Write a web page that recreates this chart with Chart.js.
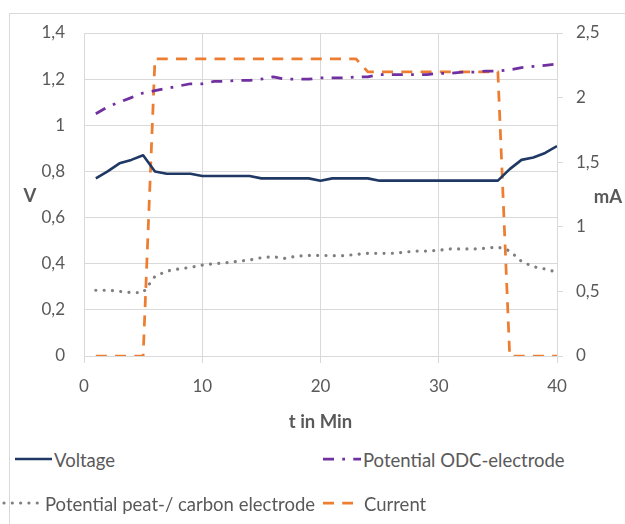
<!DOCTYPE html>
<html>
<head>
<meta charset="utf-8">
<script src="https://cdn.jsdelivr.net/npm/chart.js@4/dist/chart.umd.min.js"></script>
<style>
  html, body { margin: 0; padding: 0; background: #fff; }
  body { width: 625px; height: 524px; position: relative; overflow: hidden; font-family: Lato, 'Liberation Sans', sans-serif; color: #595959; }
  #frame { position: absolute; left: 9px; top: 13px; width: 660px; height: 560px; border: 1px solid #d9d9d9; }
  #chart { position: absolute; left: 0; top: 0; }
  .axis-title { position: absolute; font-weight: 700; font-size: 18.5px; transform: translate(-50%, -50%); }
  .legend-swatch { position: absolute; display: block; transform: translateY(-50%); }
  .legend-text { position: absolute; font-size: 18.5px; white-space: nowrap; transform: translateY(-50%); }
</style>
</head>
<body>
<div id="frame"></div>
<canvas id="chart" width="625" height="440"></canvas>
<div class="axis-title" style="left:30px;top:195px">V</div>
<div class="axis-title" style="left:608px;top:196px">mA</div>
<div id="legend"></div>
<script>
(function () {
  'use strict';

  // --- Data ---
  var minutes = [1, 2, 3, 4, 5, 6, 7, 8, 9, 10, 11, 12, 13, 14, 15, 16, 17, 18, 19, 20,
                 21, 22, 23, 24, 25, 26, 27, 28, 29, 30, 31, 32, 33, 34, 35, 36, 37, 38, 39, 40];

  var voltage = [0.77, 0.80, 0.835, 0.85, 0.87, 0.80, 0.79, 0.79, 0.79, 0.78,
                 0.78, 0.78, 0.78, 0.78, 0.77, 0.77, 0.77, 0.77, 0.77, 0.76,
                 0.77, 0.77, 0.77, 0.77, 0.76, 0.76, 0.76, 0.76, 0.76, 0.76,
                 0.76, 0.76, 0.76, 0.76, 0.76, 0.81, 0.85, 0.86, 0.88, 0.91];

  var potentialOdc = [1.05, 1.08, 1.10, 1.12, 1.14, 1.15, 1.16, 1.17, 1.18, 1.18,
                      1.19, 1.19, 1.195, 1.195, 1.20, 1.21, 1.20, 1.20, 1.20, 1.205,
                      1.205, 1.205, 1.21, 1.21, 1.22, 1.22, 1.22, 1.22, 1.22, 1.225,
                      1.225, 1.23, 1.23, 1.235, 1.235, 1.24, 1.25, 1.255, 1.26, 1.265];

  var potentialCarbon = [0.285, 0.285, 0.28, 0.275, 0.275, 0.345, 0.368, 0.377, 0.384, 0.394,
                         0.40, 0.404, 0.41, 0.416, 0.426, 0.43, 0.423, 0.433, 0.436, 0.436,
                         0.435, 0.435, 0.44, 0.445, 0.445, 0.445, 0.449, 0.455, 0.455, 0.458,
                         0.464, 0.464, 0.464, 0.467, 0.472, 0.456, 0.41, 0.387, 0.377, 0.363];

  var current = [0, 0, 0, 0, 0, 2.3, 2.3, 2.3, 2.3, 2.3,
                 2.3, 2.3, 2.3, 2.3, 2.3, 2.3, 2.3, 2.3, 2.3, 2.3,
                 2.3, 2.3, 2.3, 2.2, 2.2, 2.2, 2.2, 2.2, 2.2, 2.2,
                 2.2, 2.2, 2.2, 2.2, 2.2, 0, 0, 0, 0, 0];

  var xTicks = [0, 10, 20, 30, 40];
  var vTicks = [0, 0.2, 0.4, 0.6, 0.8, 1, 1.2, 1.4];
  var mATicks = [0, 0.5, 1, 1.5, 2, 2.5];

  // --- Styles ---
  var TEXT = '#595959';
  var GRID = '#d9d9d9';
  var FONT = { family: 'Lato', size: 17 };

  function pts(ys) {
    return minutes.map(function (m, i) { return { x: m, y: ys[i] }; });
  }

  // comma decimal like the original (German Excel)
  function comma(v) { return String(+v.toFixed(2)).replace('.', ','); }

  var series = [
    { label: 'Voltage', data: voltage, axis: 'y', color: '#1f3864', width: 2.6, dash: [], cap: 'butt' },
    { label: 'Potential ODC-electrode', data: potentialOdc, axis: 'y', color: '#7030a0', width: 2.75, dash: [11, 8.25, 2.75, 8.25], cap: 'butt' },
    { label: 'Potential peat-/ carbon electrode', data: potentialCarbon, axis: 'y', color: '#7f7f7f', width: 3.2, dash: [0.01, 8.3], cap: 'round' },
    { label: 'Current', data: current, axis: 'y1', color: '#ed7d31', width: 2.75, dash: [11, 8.25], cap: 'butt' },
  ];

  // current drawn behind the potentials, like the picture
  var datasets = series.map(function (s, i) {
    return {
      label: s.label,
      data: pts(s.data),
      yAxisID: s.axis,
      borderColor: s.color,
      backgroundColor: s.color,
      borderWidth: s.width,
      borderDash: s.dash,
      borderCapStyle: s.cap,
      borderJoinStyle: 'round',
      pointRadius: 0,
      tension: 0,
      fill: false,
      order: s.axis === 'y1' ? 5 : i,
    };
  });

  new Chart(document.getElementById('chart').getContext('2d'), {
    type: 'line',
    data: { datasets: datasets },
    options: {
      responsive: false,
      animation: false,
      layout: { padding: { top: 33, left: 0, right: 0, bottom: 0 } },
      plugins: { legend: { display: false }, tooltip: { enabled: false } },
      scales: {
        x: {
          type: 'linear',
          min: 0,
          max: 40,
          afterBuildTicks: function (scale) { scale.ticks = xTicks.map(function (v) { return { value: v }; }); },
          afterFit: function (scale) { scale.height = 84; },
          grid: { color: GRID, lineWidth: 1, tickLength: 7, tickColor: GRID },
          border: { color: GRID },
          ticks: { color: TEXT, font: FONT, padding: 13, maxRotation: 0 },
          title: { display: true, text: 't in Min', color: TEXT, font: { family: 'Lato', size: 18.5, weight: 'bold' }, padding: { top: 4, bottom: 7 } },
        },
        y: {
          position: 'left',
          min: 0,
          max: 1.4,
          afterBuildTicks: function (scale) { scale.ticks = vTicks.map(function (v) { return { value: v }; }); },
          afterFit: function (scale) { scale.width = 84; },
          grid: { color: GRID, lineWidth: 1, drawTicks: false },
          border: { display: false },
          ticks: { color: TEXT, font: FONT, padding: 19, callback: comma },
        },
        y1: {
          position: 'right',
          min: 0,
          max: 2.5,
          afterBuildTicks: function (scale) { scale.ticks = mATicks.map(function (v) { return { value: v }; }); },
          afterFit: function (scale) { scale.width = 68; },
          grid: { drawOnChartArea: false, color: GRID, tickLength: 6, tickColor: GRID },
          border: { color: GRID },
          ticks: { color: TEXT, font: FONT, padding: 13, callback: comma },
        },
      },
    },
  });

  // --- HTML legend, two columns like the original ---
  var legendPos = [
    { left: 15, top: 459, swatch: 37, text: 54 },
    { left: 323, top: 459, swatch: 38, text: 363 },
    { left: 2, top: 503, swatch: 41, text: 45 },
    { left: 323, top: 503, swatch: 30, text: 364 },
  ];
  var legend = document.getElementById('legend');
  series.forEach(function (s, i) {
    var p = legendPos[i];
    var w = p.swatch;
    var dash = s.dash.length ? s.dash.join(' ') : 'none';
    var x0 = s.cap === 'round' ? 2 : 0;
    legend.insertAdjacentHTML('beforeend',
      '<svg class="legend-swatch" style="left:' + p.left + 'px;top:' + p.top + 'px" width="' + w + '" height="8">' +
        '<line x1="' + x0 + '" y1="4" x2="' + w + '" y2="4" stroke="' + s.color + '" stroke-width="' + s.width +
        '" stroke-dasharray="' + dash + '" stroke-linecap="' + s.cap + '"/></svg>' +
      '<span class="legend-text" style="left:' + p.text + 'px;top:' + (p.top + 1) + 'px">' + s.label + '</span>');
  });
})();
</script>
</body>
</html>
